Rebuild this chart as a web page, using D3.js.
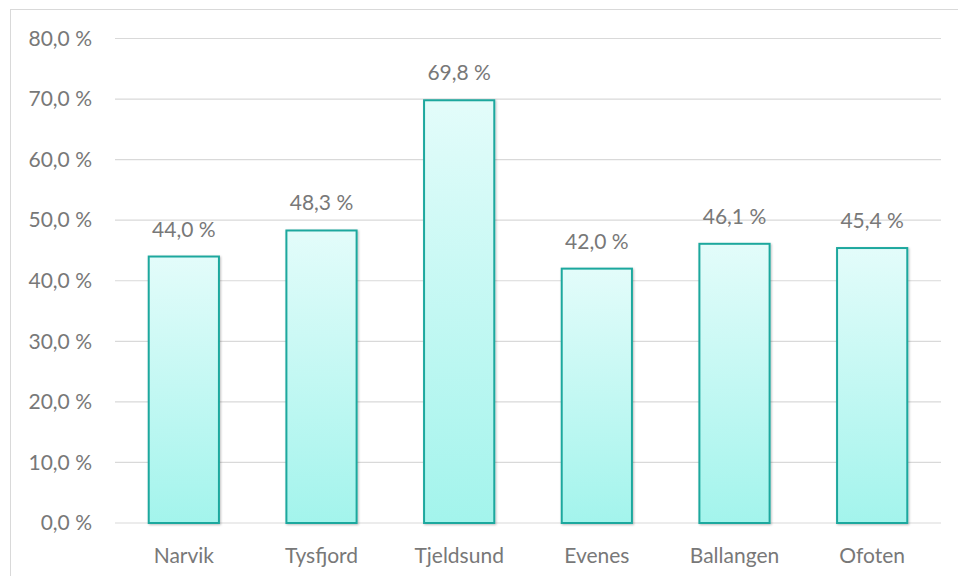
<!DOCTYPE html>
<html>
<head>
<meta charset="utf-8">
<script src="https://cdn.jsdelivr.net/npm/d3@7"></script>
<style>
    body { margin: 0; background: #fff; }
    #chart { width: 958px; height: 576px; }
    text { font-family: Lato, "Open Sans", sans-serif; fill: #787878; }
</style>
</head>
<body>
<div id="chart"></div>
<script>
// chart data
const categories = ["Narvik", "Tysfjord", "Tjeldsund", "Evenes", "Ballangen", "Ofoten"];
const values = [44.0, 48.3, 69.8, 42.0, 46.1, 45.4];
const tickValues = [0, 10, 20, 30, 40, 50, 60, 70, 80];

const fmt = v => d3.format(".1f")(v).replace(".", ",") + " %";

let margin = {top: 38.5, right: 17, bottom: 53, left: 115};
let width = 958 - margin.left - margin.right;
let height = 576 - margin.top - margin.bottom;
let fontSize = "21px";

let root = d3.select("#chart").append("svg")
    .attr("width", 958)
    .attr("height", 576);

// outer chart border
root.append("rect")
    .attr("x", 10.5)
    .attr("y", 9.5)
    .attr("width", 958)
    .attr("height", 600)
    .attr("fill", "none")
    .attr("stroke", "#d9d9d9")
    .attr("stroke-width", 1);

let defs = root.append("defs");
let grad = defs.append("linearGradient")
    .attr("id", "barGrad")
    .attr("x1", 0).attr("y1", 0).attr("x2", 0).attr("y2", 1);
grad.append("stop").attr("offset", "0%").attr("stop-color", "#e3fcfa");
grad.append("stop").attr("offset", "100%").attr("stop-color", "#a3f4ec");

let shadow = defs.append("filter")
    .attr("id", "shadow")
    .attr("x", "-20%").attr("y", "-20%")
    .attr("width", "140%").attr("height", "140%");
shadow.append("feDropShadow")
    .attr("dx", 1).attr("dy", 1)
    .attr("stdDeviation", 1.2)
    .attr("flood-color", "#000")
    .attr("flood-opacity", 0.25);

let svg = root.append("g")
    .attr("transform", "translate(" + margin.left + "," + margin.top + ")");

let xScale = d3.scaleBand()
    .domain(categories)
    .range([0, width])
    .paddingInner(0.49)
    .paddingOuter(0.245);

let yScale = d3.scaleLinear()
    .domain([0, 80])
    .range([height, 0]);

// gridlines
svg.selectAll(".grid")
    .data(tickValues)
    .enter().append("line")
    .attr("class", "grid")
    .attr("x1", 0)
    .attr("x2", width)
    .attr("y1", d => yScale(d))
    .attr("y2", d => yScale(d))
    .attr("stroke", "#d9d9d9")
    .attr("stroke-width", 1.2);

// y axis labels
let yAxis = d3.axisLeft(yScale)
    .tickValues(tickValues)
    .tickFormat(fmt)
    .tickSize(0)
    .tickPadding(23);
let yAxisGroup = svg.append("g").attr("class", "y-axis").call(yAxis);
yAxisGroup.select(".domain").remove();
yAxisGroup.selectAll("text")
    .style("font-size", fontSize)
    .attr("fill", "#787878");

// x axis labels
let xAxis = d3.axisBottom(xScale).tickSize(0).tickPadding(25);
let xAxisGroup = svg.append("g")
    .attr("class", "x-axis")
    .attr("transform", "translate(0," + height + ")")
    .call(xAxis);
xAxisGroup.select(".domain").remove();
xAxisGroup.selectAll("text")
    .style("font-size", fontSize)
    .attr("fill", "#787878");

// bars
svg.selectAll(".bar")
    .data(values)
    .enter().append("rect")
    .attr("class", "bar")
    .attr("x", (d, i) => xScale(categories[i]))
    .attr("y", d => yScale(d))
    .attr("width", xScale.bandwidth())
    .attr("height", d => height - yScale(d))
    .attr("fill", "url(#barGrad)")
    .attr("stroke", "#1fa89e")
    .attr("stroke-width", 2)
    .attr("filter", "url(#shadow)");

// value labels
svg.selectAll(".value-label")
    .data(values)
    .enter().append("text")
    .attr("class", "value-label")
    .attr("text-anchor", "middle")
    .attr("x", (d, i) => xScale(categories[i]) + xScale.bandwidth() / 2)
    .attr("y", d => yScale(d) - 20)
    .style("font-size", fontSize)
    .text(d => fmt(d));
</script>
</body>
</html>
